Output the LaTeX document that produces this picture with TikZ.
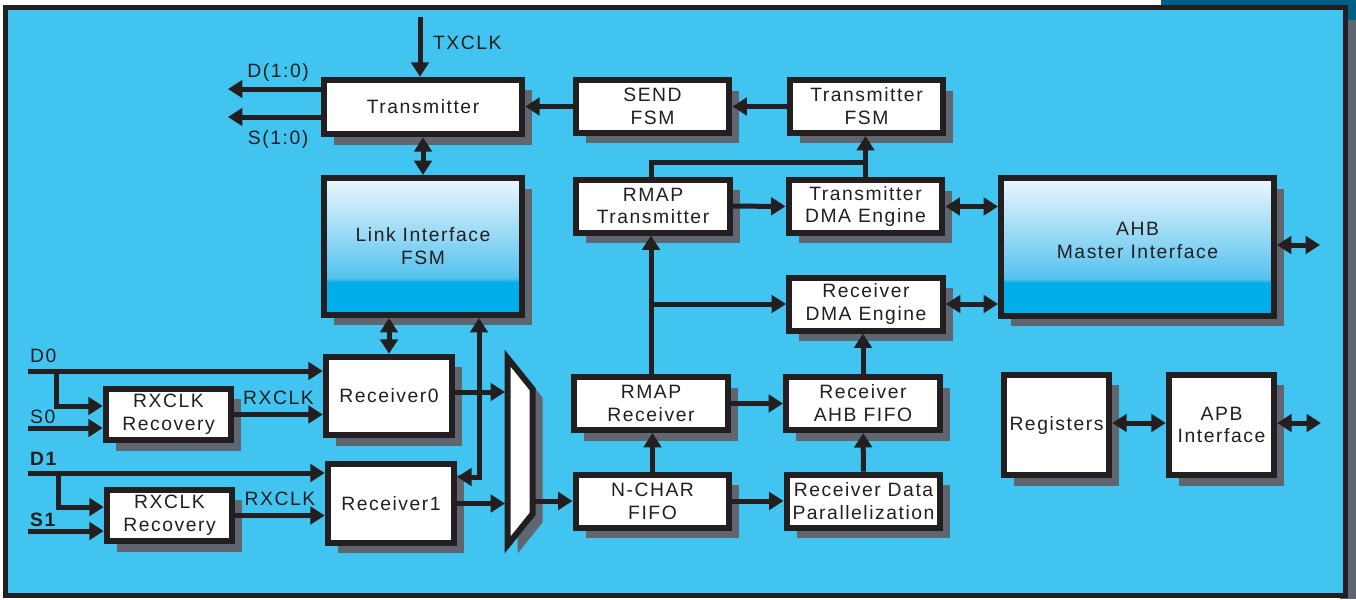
\documentclass[tikz,border=0pt]{standalone}
\usepackage{fontspec}
\setmainfont{Liberation Sans}[LetterSpace=8]
\usetikzlibrary{arrows.meta, shadows}
\definecolor{bgblue}{RGB}{66, 196, 241}
\definecolor{inkgray}{RGB}{35, 31, 32}
\definecolor{shadowgray}{RGB}{95, 102, 112}
\definecolor{tealband}{RGB}{0, 95, 135}
\definecolor{fsmcyan}{RGB}{0, 174, 234}
\definecolor{fsmmid}{RGB}{85, 194, 238}
\definecolor{fsmpale}{RGB}{237, 247, 253}
\pgfdeclareverticalshading{fsmfade}{100bp}{color(0bp)=(fsmcyan); color(37bp)=(fsmcyan); color(38.5bp)=(fsmmid); color(75bp)=(fsmpale); color(100bp)=(fsmpale)}

\begin{document}
\begin{tikzpicture}[
    x=0.02cm, y=-0.02cm,
    font=\fontsize{11}{13}\selectfont,
    block/.style={
      rectangle,
      draw=inkgray,
      line width=0.12cm,
      fill=white,
      text=inkgray,
      align=center,
      inner sep=1pt,
      general shadow={fill=shadowgray, shadow xshift=0.2cm, shadow yshift=-0.21cm}
    },
    fsmblock/.style={block, shade, shading=fsmfade},
    txblock/.style={block, minimum width=3.97cm, minimum height=1.09cm},
    midblock/.style={block, minimum width=3.08cm, minimum height=1.06cm},
    rxblock/.style={block, minimum width=2.53cm, minimum height=1.57cm},
    recblock/.style={block, minimum width=2.51cm, minimum height=1.03cm},
    sqblock/.style={block, minimum width=2.11cm, minimum height=2.01cm},
    wire/.style={line width=0.1cm, draw=inkgray},
    arrow/.style={wire, -{Triangle[length=0.29cm, width=0.35cm]}},
    dblarrow/.style={wire, {Triangle[length=0.29cm, width=0.35cm]}-{Triangle[length=0.29cm, width=0.35cm]}},
    lbl/.style={text=inkgray, inner sep=1pt}
  ]
    \useasboundingbox (0,0) rectangle (1356,599);
    \fill[white] (0,0) rectangle (1356,599);
    \fill[tealband] (1161,0) rectangle (1356,20);
    \fill[shadowgray] (1340,20) rectangle (1356,599);
    \draw[line width=0.11cm, draw=inkgray, fill=bgblue] (5.5,7.5) rectangle (1345.5,595.5);

    \node[txblock] (tx) at (423,107) {Transmitter};
    \node[midblock] (send) at (652.5,106.5) {SEND\\FSM};
    \node[midblock] (txfsm) at (866.5,106.5) {Transmitter\\FSM};
    \node[fsmblock, minimum width=3.97cm, minimum height=2.74cm] (link) at (423,246.5) {Link Interface\\FSM};
    \node[midblock] (rmaptx) at (653,206) {RMAP\\Transmitter};
    \node[midblock] (txdma) at (865.5,206.5) {Transmitter\\DMA Engine};
    \node[midblock] (rxdma) at (866,304) {Receiver\\DMA Engine};
    \node[fsmblock, minimum width=5.46cm, minimum height=2.76cm] (ahb) at (1137.5,247) {AHB\\Master Interface\\[-0.18cm]};
    \node[midblock] (rmaprx) at (651,403.5) {RMAP\\Receiver};
    \node[midblock] (rxahb) at (863,403.5) {Receiver\\AHB FIFO};
    \node[midblock] (nchar) at (652.5,501) {N-CHAR\\FIFO};
    \node[midblock] (rdp) at (863.5,501) {Receiver Data\\Parallelization};
    \node[sqblock] (regs) at (1056.5,425) {Registers};
    \node[sqblock] (apb) at (1221.5,425) {APB\\Interface};
    \node[rxblock] (rx0) at (389,396) {Receiver0};
    \node[rxblock] (rx1) at (391,503.5) {Receiver1};
    \node[recblock] (rec0) at (168.5,414.5) {RXCLK\\Recovery};
    \node[recblock] (rec1) at (169.5,515.5) {RXCLK\\Recovery};

    \draw[line width=0.12cm, draw=inkgray, fill=white, miter limit=20,
      general shadow={fill=shadowgray, shadow xshift=0.2cm, shadow yshift=-0.17cm}]
      (507.5,358) -- (532.5,389) -- (532.5,514) -- (507.5,545) -- cycle;
    \coordinate (muxL) at (505,0);
    \coordinate (muxR) at (535,501);

    \coordinate (txclk) at (420,17);
    \coordinate (dout) at (228,89);
    \coordinate (sout) at (228,117);
    \draw[arrow] (txclk) -- (txclk |- tx.north) node[lbl, pos=0.43, right=5pt] (txclklbl) {TXCLK};
    \draw[arrow] (dout -| tx.west) -- (dout) node[lbl, pos=0.46, above=2pt] (doutlbl) {D(1:0)};
    \draw[arrow] (sout -| tx.west) -- (sout) node[lbl, pos=0.46, below=5pt] (soutlbl) {S(1:0)};
    \draw[arrow] (send.west) -- (send.west -| tx.east);
    \draw[arrow] (txfsm.west) -- (txfsm.west -| send.east);
    \draw[dblarrow] (tx) -- (link);
    \draw[dblarrow] (rx0.north) -- (rx0.north |- link.south);
    \coordinate (fbk) at (479,477);
    \draw[dblarrow] (fbk -| rx1.east) -- (fbk) -- (fbk |- link.south);

    \coordinate (d0) at (28,371);
    \coordinate (s0) at (28,428);
    \coordinate (d1) at (28,473);
    \coordinate (s1) at (28,531);
    \coordinate (d0tap) at (56,371);
    \coordinate (d1tap) at (58,473);
    \node[lbl, anchor=base west] (d0lbl) at (28,362) {D0};
    \node[lbl, anchor=base west] (s0lbl) at (28,423) {S0};
    \node[lbl, anchor=base west, font=\fontsize{11}{13}\selectfont\bfseries] (d1lbl) at (28,465) {D1};
    \node[lbl, anchor=base west, font=\fontsize{11}{13}\selectfont\bfseries] (s1lbl) at (28,526) {S1};
    \draw[arrow] (d0) -- (d0 -| rx0.west);
    \draw[arrow] (d0tap) |- ([yshift=0.17cm]rec0.west);
    \draw[arrow] (s0) -- (s0 -| rec0.west);
    \draw[arrow] (d1) -- (d1 -| rx1.west);
    \draw[arrow] (d1tap) |- ([yshift=0.17cm]rec1.west);
    \draw[arrow] (s1) -- (s1 -| rec1.west);
    \draw[arrow] (rec0.east) -- (rec0.east -| rx0.west) node[lbl, midway, above=3pt] (clk0lbl) {RXCLK};
    \draw[arrow] (rec1.east) -- (rec1.east -| rx1.west) node[lbl, midway, above=3pt] (clk1lbl) {RXCLK};
    \draw[arrow] ([yshift=0.08cm]rx0.east) -- ([yshift=0.08cm]rx0.east -| muxL);
    \draw[arrow] (rx1.east) -- (rx1.east -| muxL);
    \draw[arrow] (muxR) -- (nchar.west);

    \draw[arrow] (nchar) -- (rdp);
    \draw[arrow] (nchar.north) -- (nchar.north |- rmaprx.south);
    \draw[arrow] (rdp) -- (rxahb);
    \draw[arrow] (rmaprx) -- (rxahb);
    \draw[arrow] (rxahb.north) -- (rxahb.north |- rxdma.south);
    \coordinate (rmapbus) at (651,304);
    \coordinate (txbus) at (651,162);
    \draw[arrow] (rmaprx.north) -- (rmaprx.north |- rmaptx.south);
    \draw[arrow] (rmapbus) -- (rmapbus -| rxdma.west);
    \draw[arrow] (rmaptx) -- (txdma);
    \draw[arrow] (txdma.north) -- (txdma.north |- txfsm.south);
    \draw[wire] (txbus |- rmaptx.north) -- (txbus) -- (txbus -| txdma.north);
    \draw[dblarrow] (txdma.east) -- (txdma.east -| ahb.west);
    \draw[dblarrow] (rxdma.east) -- (rxdma.east -| ahb.west);
    \coordinate (ahbout) at (1320,245);
    \coordinate (apbout) at (1321,423);
    \draw[dblarrow] (ahb.east |- ahbout) -- (ahbout);
    \draw[dblarrow] (regs.east |- apbout) -- (apb.west |- apbout);
    \draw[dblarrow] (apb.east |- apbout) -- (apbout);
  \end{tikzpicture}
\end{document}
